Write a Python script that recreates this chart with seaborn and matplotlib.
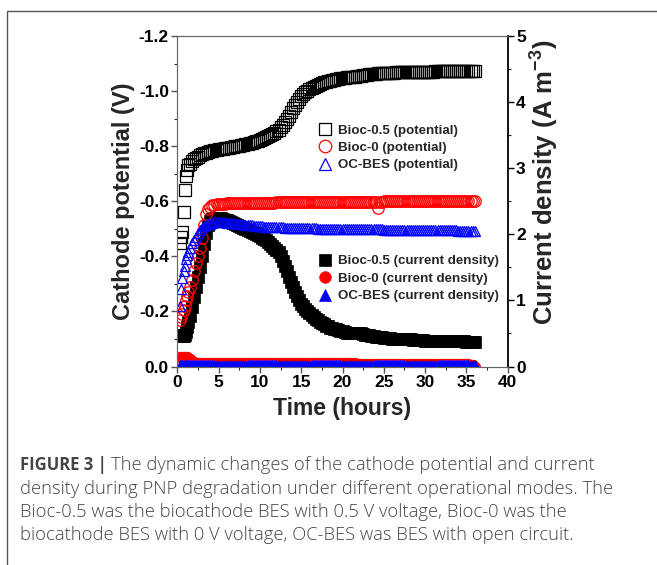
import matplotlib
matplotlib.use("Agg")
import matplotlib.pyplot as plt
import seaborn as sns
from matplotlib.ticker import MultipleLocator
from matplotlib.patches import Rectangle

# DATA: time axis (hours), shared by all six series
time_h = [0.3, 0.45, 0.6, 0.75, 0.9, 1.05, 1.2, 1.35, 1.5, 1.75,
          2.0, 2.25, 2.5, 2.75, 3.0, 3.25, 3.5, 3.75, 4.0, 4.25,
          4.5, 4.75,
          5.0, 5.25, 5.5, 5.75, 6.0, 6.25, 6.5, 6.75, 7.0, 7.25, 7.5, 7.75,
          8.0, 8.25, 8.5, 8.75, 9.0, 9.25, 9.5, 9.75, 10.0, 10.25, 10.5, 10.75,
          11.0, 11.25, 11.5, 11.75, 12.0, 12.25, 12.5, 12.75, 13.0, 13.25, 13.5, 13.75,
          14.0, 14.25, 14.5, 14.75, 15.0, 15.25, 15.5, 15.75, 16.0, 16.25, 16.5, 16.75,
          17.0, 17.25, 17.5, 17.75, 18.0, 18.25, 18.5, 18.75, 19.0, 19.25, 19.5, 19.75,
          20.0, 20.25, 20.5, 20.75, 21.0, 21.25, 21.5, 21.75, 22.0, 22.25, 22.5, 22.75,
          23.0, 23.25, 23.5, 23.75, 24.0, 24.25, 24.5, 24.75, 25.0, 25.25, 25.5, 25.75,
          26.0, 26.25, 26.5, 26.75, 27.0, 27.25, 27.5, 27.75, 28.0, 28.25, 28.5, 28.75,
          29.0, 29.25, 29.5, 29.75, 30.0, 30.25, 30.5, 30.75, 31.0, 31.25, 31.5, 31.75,
          32.0, 32.25, 32.5, 32.75, 33.0, 33.25, 33.5, 33.75, 34.0, 34.25, 34.5, 34.75,
          35.0, 35.25, 35.5, 35.75, 36.0]

# DATA: cathode potential (V)
pot_bioc05 = [-0.45, -0.47, -0.49, -0.56, -0.64, -0.69, -0.715, -0.73, -0.737, -0.745,
              -0.752, -0.758, -0.762, -0.767, -0.771, -0.774, -0.777, -0.779, -0.781, -0.783,
              -0.785, -0.786,
              -0.788, -0.789, -0.791, -0.792, -0.793, -0.795, -0.796, -0.797,
              -0.799, -0.800, -0.802, -0.803, -0.805, -0.807, -0.809, -0.811,
              -0.813, -0.815, -0.818, -0.820, -0.823, -0.826, -0.829, -0.832,
              -0.836, -0.840, -0.844, -0.849, -0.854, -0.860, -0.868, -0.877,
              -0.887, -0.898, -0.910, -0.923, -0.937, -0.950, -0.962, -0.973,
              -0.982, -0.990, -0.996, -1.001, -1.006, -1.011, -1.015, -1.019,
              -1.023, -1.026, -1.029, -1.032, -1.034, -1.036, -1.038, -1.040,
              -1.042, -1.044, -1.045, -1.047, -1.048, -1.049, -1.050, -1.050,
              -1.051, -1.051, -1.052, -1.053, -1.054, -1.056, -1.057, -1.059,
              -1.060, -1.061, -1.062, -1.062, -1.063, -1.064, -1.064, -1.065,
              -1.065, -1.066, -1.066, -1.067, -1.067, -1.067, -1.068, -1.068,
              -1.068, -1.068, -1.069, -1.069, -1.069, -1.069, -1.070, -1.070,
              -1.070, -1.070, -1.070, -1.071, -1.071, -1.071, -1.071, -1.071,
              -1.071, -1.072, -1.072, -1.072, -1.072, -1.072, -1.072, -1.072,
              -1.073, -1.073, -1.073, -1.073, -1.073, -1.073, -1.073, -1.074,
              -1.074, -1.074, -1.074, -1.074, -1.074]
pot_bioc0 = [-0.17, -0.18, -0.19, -0.205, -0.22, -0.24, -0.255, -0.27, -0.29, -0.315,
             -0.345, -0.375, -0.40, -0.43, -0.465, -0.515, -0.555, -0.572, -0.58, -0.585,
             -0.588, -0.589,
             -0.590, -0.590, -0.591, -0.591, -0.592, -0.592, -0.592, -0.592,
             -0.593, -0.593, -0.593, -0.593, -0.594, -0.594, -0.594, -0.594,
             -0.594, -0.594, -0.594, -0.594, -0.595, -0.595, -0.595, -0.595,
             -0.595, -0.595, -0.595, -0.595, -0.596, -0.596, -0.596, -0.596,
             -0.596, -0.596, -0.596, -0.596, -0.597, -0.597, -0.597, -0.597,
             -0.597, -0.597, -0.597, -0.597, -0.597, -0.597, -0.597, -0.597,
             -0.598, -0.598, -0.598, -0.598, -0.598, -0.598, -0.598, -0.598,
             -0.598, -0.598, -0.598, -0.598, -0.598, -0.598, -0.598, -0.598,
             -0.599, -0.599, -0.599, -0.599, -0.599, -0.599, -0.599, -0.599,
             -0.599, -0.599, -0.599, -0.599, -0.599, -0.577, -0.599, -0.599,
             -0.600, -0.600, -0.600, -0.600, -0.600, -0.600, -0.600, -0.600,
             -0.600, -0.600, -0.600, -0.600, -0.600, -0.600, -0.600, -0.600,
             -0.600, -0.600, -0.600, -0.600, -0.600, -0.600, -0.600, -0.600,
             -0.600, -0.600, -0.600, -0.600, -0.600, -0.600, -0.600, -0.600,
             -0.601, -0.601, -0.601, -0.601, -0.601, -0.601, -0.601, -0.601,
             -0.601, -0.601, -0.601, -0.601, -0.601]
pot_ocbes = [-0.22, -0.28, -0.32, -0.345, -0.365, -0.39, -0.405, -0.415, -0.43, -0.447,
             -0.46, -0.472, -0.485, -0.495, -0.503, -0.509, -0.513, -0.517, -0.519, -0.521,
             -0.523, -0.524,
             -0.524, -0.524, -0.523, -0.523, -0.522, -0.522, -0.521, -0.521,
             -0.520, -0.519, -0.518, -0.517, -0.516, -0.515, -0.514, -0.513,
             -0.512, -0.511, -0.510, -0.510, -0.509, -0.509, -0.508, -0.508,
             -0.507, -0.507, -0.506, -0.506, -0.505, -0.505, -0.505, -0.505,
             -0.504, -0.504, -0.504, -0.504, -0.503, -0.503, -0.503, -0.503,
             -0.503, -0.503, -0.503, -0.503, -0.502, -0.502, -0.502, -0.502,
             -0.501, -0.501, -0.501, -0.501, -0.501, -0.501, -0.501, -0.501,
             -0.500, -0.500, -0.500, -0.500, -0.500, -0.500, -0.500, -0.500,
             -0.499, -0.499, -0.499, -0.499, -0.499, -0.499, -0.499, -0.499,
             -0.498, -0.498, -0.498, -0.498, -0.498, -0.498, -0.498, -0.498,
             -0.497, -0.497, -0.497, -0.497, -0.497, -0.497, -0.497, -0.497,
             -0.496, -0.496, -0.496, -0.496, -0.496, -0.496, -0.496, -0.496,
             -0.495, -0.495, -0.495, -0.495, -0.495, -0.495, -0.495, -0.495,
             -0.494, -0.494, -0.494, -0.494, -0.494, -0.494, -0.494, -0.494,
             -0.494, -0.494, -0.494, -0.494, -0.493, -0.493, -0.493, -0.493,
             -0.493, -0.493, -0.493, -0.493, -0.493]

# DATA: current density (A m-3)
cur_bioc05 = [0.48, 0.47, 0.46, 0.46, 0.47, 0.52, 0.60, 0.68, 0.76, 0.90,
              1.05, 1.20, 1.35, 1.50, 1.67, 1.85, 2.02, 2.14, 2.20, 2.23,
              2.25, 2.25,
              2.25, 2.24, 2.23, 2.22, 2.21, 2.20, 2.18, 2.17,
              2.15, 2.14, 2.12, 2.11, 2.09, 2.08, 2.06, 2.05,
              2.03, 2.02, 2.00, 1.99, 1.97, 1.95, 1.93, 1.91,
              1.88, 1.86, 1.83, 1.80, 1.77, 1.73, 1.67, 1.60,
              1.52, 1.44, 1.36, 1.28, 1.20, 1.13, 1.06, 1.00,
              0.95, 0.91, 0.87, 0.84, 0.81, 0.78, 0.75, 0.72,
              0.70, 0.68, 0.66, 0.64, 0.62, 0.61, 0.59, 0.58,
              0.57, 0.56, 0.55, 0.54, 0.53, 0.52, 0.51, 0.51,
              0.50, 0.50, 0.50, 0.50, 0.50, 0.50, 0.49, 0.48,
              0.47, 0.47, 0.46, 0.46, 0.45, 0.45, 0.44, 0.44,
              0.43, 0.43, 0.43, 0.43, 0.42, 0.42, 0.42, 0.42,
              0.41, 0.41, 0.41, 0.41, 0.41, 0.41, 0.40, 0.40,
              0.40, 0.40, 0.40, 0.40, 0.39, 0.39, 0.39, 0.39,
              0.39, 0.39, 0.39, 0.39, 0.38, 0.38, 0.38, 0.38,
              0.38, 0.38, 0.38, 0.38, 0.38, 0.38, 0.38, 0.38,
              0.37, 0.37, 0.37, 0.37, 0.37]
cur_bioc0 = [0.15, 0.15, 0.15, 0.15, 0.15, 0.14, 0.14, 0.13, 0.12, 0.09,
             0.07, 0.06, 0.06, 0.06, 0.06, 0.06, 0.06, 0.06, 0.06, 0.06,
             0.06, 0.06,
             0.06, 0.06, 0.06, 0.06, 0.06, 0.06, 0.06, 0.06,
             0.06, 0.06, 0.06, 0.06, 0.06, 0.06, 0.06, 0.06,
             0.06, 0.06, 0.06, 0.06, 0.06, 0.06, 0.06, 0.06,
             0.06, 0.06, 0.06, 0.06, 0.06, 0.06, 0.06, 0.06,
             0.06, 0.06, 0.06, 0.06, 0.06, 0.06, 0.06, 0.06,
             0.06, 0.06, 0.06, 0.06, 0.06, 0.06, 0.06, 0.06,
             0.06, 0.06, 0.06, 0.06, 0.06, 0.06, 0.06, 0.06,
             0.06, 0.06, 0.06, 0.06, 0.06, 0.06, 0.06, 0.06,
             0.06, 0.06, 0.05, 0.04, 0.04, 0.04, 0.04, 0.04,
             0.04, 0.04, 0.04, 0.04, 0.04, 0.04, 0.04, 0.04,
             0.04, 0.04, 0.04, 0.04, 0.04, 0.04, 0.04, 0.04,
             0.04, 0.04, 0.04, 0.04, 0.04, 0.04, 0.04, 0.04,
             0.04, 0.04, 0.04, 0.04, 0.04, 0.04, 0.04, 0.04,
             0.04, 0.04, 0.04, 0.04, 0.04, 0.04, 0.04, 0.04,
             0.04, 0.04, 0.04, 0.04, 0.04, 0.04, 0.04, 0.04,
             0.04, 0.04, 0.03, 0.02, 0.00]
cur_ocbes = [0.02, 0.02, 0.02, 0.02, 0.02, 0.02, 0.02, 0.02, 0.02, 0.02,
             0.02, 0.02, 0.02, 0.02, 0.02, 0.02, 0.02, 0.02, 0.02, 0.02,
             0.02, 0.02,
             0.02, 0.02, 0.02, 0.02, 0.02, 0.02, 0.02, 0.02,
             0.02, 0.02, 0.02, 0.02, 0.02, 0.02, 0.02, 0.02,
             0.02, 0.02, 0.02, 0.02, 0.02, 0.02, 0.02, 0.02,
             0.02, 0.02, 0.02, 0.02, 0.02, 0.02, 0.02, 0.02,
             0.02, 0.02, 0.02, 0.02, 0.02, 0.02, 0.02, 0.02,
             0.02, 0.02, 0.02, 0.02, 0.02, 0.02, 0.02, 0.02,
             0.02, 0.02, 0.02, 0.02, 0.02, 0.02, 0.02, 0.02,
             0.02, 0.02, 0.02, 0.02, 0.02, 0.02, 0.02, 0.02,
             0.02, 0.02, 0.02, 0.02, 0.02, 0.02, 0.02, 0.02,
             0.02, 0.02, 0.02, 0.02, 0.02, 0.02, 0.02, 0.02,
             0.02, 0.02, 0.02, 0.02, 0.02, 0.02, 0.02, 0.02,
             0.02, 0.02, 0.02, 0.02, 0.02, 0.02, 0.02, 0.02,
             0.02, 0.02, 0.02, 0.02, 0.02, 0.02, 0.02, 0.02,
             0.02, 0.02, 0.02, 0.02, 0.02, 0.02, 0.02, 0.02,
             0.02, 0.02, 0.02, 0.02, 0.02, 0.02, 0.02, 0.02,
             0.02, 0.02, 0.02, 0.02, 0.02]

pot_labels = ["Bioc-0.5 (potential)", "Bioc-0 (potential)", "OC-BES (potential)"]
cur_labels = ["Bioc-0.5 (current density)", "Bioc-0 (current density)",
              "OC-BES (current density)"]
colors = ["black", "#ff0000", "#0000ff"]
markers = ["s", "o", "^"]

caption_head = "FIGURE 3 |"
caption = [
    "The dynamic changes of the cathode potential and current",
    "density during PNP degradation under different operational modes. The",
    "Bioc-0.5 was the biocathode BES with 0.5 V voltage, Bioc-0 was the",
    "biocathode BES with 0 V voltage, OC-BES was BES with open circuit.",
]

for s in (pot_bioc05, pot_bioc0, pot_ocbes, cur_bioc05, cur_bioc0, cur_ocbes):
    assert len(s) == len(time_h)

# GRAPH: style
sns.set_style("ticks")
plt.rcParams["font.family"] = ["Liberation Sans", "DejaVu Sans"]
plt.rcParams["axes.unicode_minus"] = False
plt.rcParams["mathtext.fontset"] = "custom"
plt.rcParams["mathtext.rm"] = "Liberation Sans:bold"
plt.rcParams["mathtext.bf"] = "Liberation Sans:bold"
plt.rcParams["mathtext.default"] = "bf"

fig = plt.figure(figsize=(6.57, 5.65), dpi=100)
ax = fig.add_axes([0.2699, 0.3513, 0.5029, 0.585])
ax2 = ax.twinx()

# current density behind, potential in front
ax.set_zorder(ax2.get_zorder() + 1)
ax.patch.set_visible(False)

cur_series = [cur_bioc05, cur_bioc0, cur_ocbes]
msize_cur = [8.2, 7.6, 7.8]
for vals, col, mk, lab, ms in zip(cur_series, colors, markers, cur_labels, msize_cur):
    sns.lineplot(x=time_h, y=vals, ax=ax2, estimator=None, legend=False,
                 linestyle="", marker=mk, markersize=ms, color=col,
                 markerfacecolor=col, markeredgecolor=col, markeredgewidth=0.5,
                 label=lab)

pot_series = [pot_bioc05, pot_bioc0, pot_ocbes]
msize_pot = [8.0, 8.2, 7.8]
for vals, col, mk, lab, ms in zip(pot_series, colors, markers, pot_labels, msize_pot):
    sns.lineplot(x=time_h, y=vals, ax=ax, estimator=None, legend=False,
                 linestyle="", marker=mk, markersize=ms, color=col,
                 markerfacecolor="none", markeredgecolor=col, markeredgewidth=0.9,
                 label=lab)

# GRAPH: axes
ax.set_xlim(0, 40)
ax.set_ylim(0, -1.2)
ax2.set_ylim(0, 5)
ax.xaxis.set_major_locator(MultipleLocator(5))
ax.xaxis.set_minor_locator(MultipleLocator(2.5))
ax.yaxis.set_major_locator(MultipleLocator(0.2))
ax.yaxis.set_minor_locator(MultipleLocator(0.1))
ax2.yaxis.set_major_locator(MultipleLocator(1))
ax2.yaxis.set_minor_locator(MultipleLocator(0.5))
ax.yaxis.set_major_formatter(lambda v, p: f"{v:.1f}" if abs(v) > 1e-9 else "0.0")

for a in (ax, ax2):
    a.tick_params(which="major", direction="out", length=4, width=1,
                  labelsize=12.5, pad=2)
    a.tick_params(which="minor", direction="out", length=2.5, width=0.8)
    for lbl in a.get_xticklabels() + a.get_yticklabels():
        lbl.set_fontweight("bold")
ax.tick_params(axis="both", colors="#555555", labelcolor="black")
ax2.tick_params(axis="y", colors="black", labelcolor="black")

for name in ("left", "top", "bottom"):
    ax.spines[name].set_color("#666666")
    ax2.spines[name].set_color("#666666")
ax.spines["right"].set_visible(False)
ax2.spines["right"].set_color("black")
ax2.spines["right"].set_linewidth(1.3)

ax.set_xlabel("Time (hours)", fontsize=16.5, fontweight="bold", labelpad=5)
ax.set_ylabel("Cathode potential (V)", fontsize=17, fontweight="bold", labelpad=3)
ax2.set_ylabel("Current density (A m$^{-3}$)", fontsize=18.5, fontweight="bold",
               labelpad=2)
ax2.yaxis.label.set_y(0.557)

# GRAPH: legends
leg_kw = dict(frameon=False, prop={"weight": "bold", "size": 9.6},
              handlelength=1.1, handletextpad=0.45, labelspacing=0.38,
              borderpad=0, borderaxespad=0, markerscale=1.1)
leg1 = ax.legend(handles=ax.get_lines()[:3], loc="upper left",
                 bbox_to_anchor=(0.425, 0.733), **leg_kw)
leg2 = ax2.legend(handles=ax2.get_lines()[:3], loc="upper left",
                  bbox_to_anchor=(0.425, 0.337), **leg_kw)

# Caption and frame
fig.add_artist(Rectangle((7 / 657, -0.1), 2, 1 - 11 / 565 + 0.1,
                         transform=fig.transFigure, fill=False,
                         edgecolor="#555555", linewidth=1))
cap_kw = dict(color="#454545", va="center", family=["Open Sans", "DejaVu Sans"])
fig.text(20 / 657, 1 - 465 / 565, caption_head, fontweight="bold", fontsize=12,
         **cap_kw)
fig.text(111 / 657, 1 - 465 / 565, caption[0], fontweight="light", fontsize=13.2,
         **cap_kw)
for i, line in enumerate(caption[1:]):
    fig.text(20 / 657, 1 - (488.5 + 23.5 * i) / 565, line, fontweight="light",
             fontsize=13.2, **cap_kw)

fig.savefig("out.png", dpi=100)
